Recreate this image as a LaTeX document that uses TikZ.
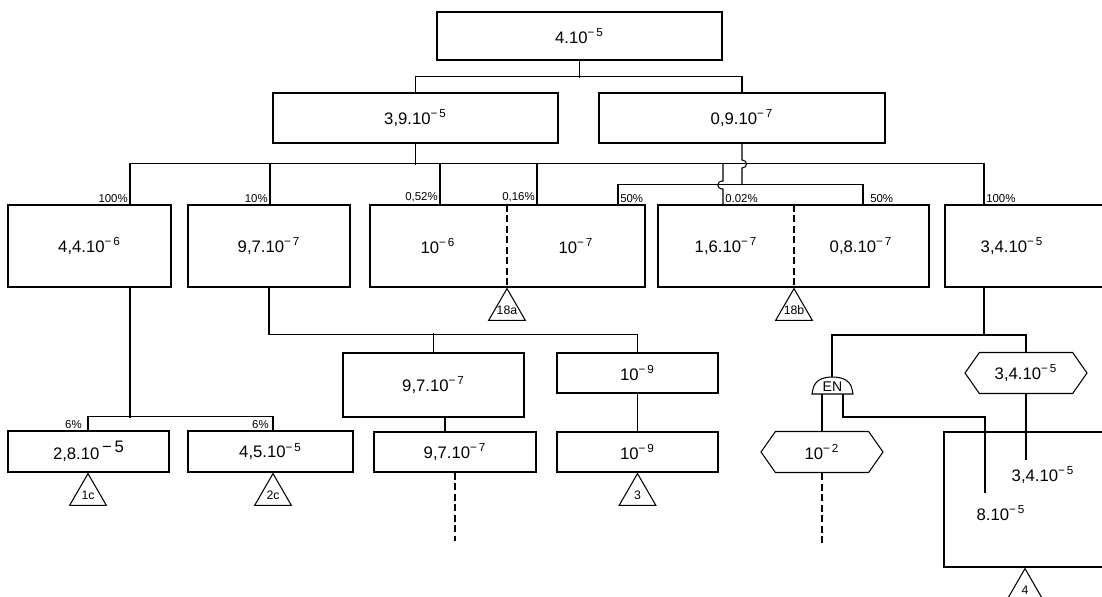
\documentclass[tikz,border=0pt]{standalone}
\usepackage{fontspec}
\setmainfont{Liberation Sans}
\usetikzlibrary{positioning,fit,shapes.geometric,shapes.symbols}
\newcommand{\ee}[1]{\textsuperscript{−\,#1}}

\begin{document}
\begin{tikzpicture}[
    x=0.02cm, y=-0.02cm, line width=0.6pt,
    font=\fontsize{9.5}{11}\selectfont,
    blk/.style={draw, inner sep=0pt},
    val/.style={inner sep=1pt},
    pct/.style={inner sep=1pt, font=\fontsize{6.5}{7}\selectfont},
    tri/.style={draw, regular polygon, regular polygon sides=3, minimum size=0.85cm, inner sep=0pt, anchor=corner 1},
    tritxt/.style={inner sep=0pt, font=\fontsize{7}{8}\selectfont},
    hex/.style={draw, signal, signal to=west and east, signal pointer angle=110, minimum width=2.44cm, minimum height=0.82cm, inner sep=0pt},
    gap/.style={dash pattern=on 4pt off 2pt}
]
\useasboundingbox (0,0) rectangle (1102,596);
\clip (0,0) rectangle (1102,596);

% top levels
\node[blk, fit={(437,12) (722,60)}, label=center:{4.10\ee{5}}] (top) {};
\node[blk, fit={(273,93) (558,143)}, label=center:{3,9.10\ee{5}}] (a1) {};
\node[blk, fit={(599,93) (885,143)}, label=center:{0,9.10\ee{7}}] (a2) {};
\draw (top.south) -- ++(0,17);
\draw (a1.north) -- ++(0,-16) -| (a2.north);

% second level
\node[blk, fit={(8,205) (171,287)}, label=center:{4,4.10\ee{6}}] (b1) {};
\node[blk, fit={(188,205) (350,287)}, label=center:{9,7.10\ee{7}}] (b2) {};
\node[blk, fit={(370,205) (645,287)}] (b3) {};
\node[blk, fit={(658,205) (929,287)}] (b4) {};
\node[blk, fit={(945,205) (1130,287)}] (b5) {};
\node[val] (b3l) at (438,246) {10\ee{6}};
\node[val] (b3r) at (576,246) {10\ee{7}};
\node[val] (b4l) at (726,246) {1,6.10\ee{7}};
\node[val] (b4r) at (861,246) {0,8.10\ee{7}};
\node[val] (b5t) at (1012,246) {3,4.10\ee{5}};
\draw[gap] (b3.north -| 507,0) -- (b3.south -| 507,0);
\draw[gap] (b4.north -| 794,0) -- (b4.south -| 794,0);
\node[tri, label={[tritxt]center:18a}] (t18a) at (b3.south -| 507,0) {};
\node[tri, label={[tritxt]center:18b}] (t18b) at (b4.south -| 794,0) {};

% bus
\draw (a1.south) -- ++(0,21);
\draw (b1.north -| 130,0) -- ++(0,-41) -| (b5.north -| 984,0);
\draw (b2.north -| 270,0) -- ++(0,-41);
\draw (b3.north -| 440,0) -- ++(0,-41);
\draw (b3.north -| 537,0) -- ++(0,-41);
\draw (b4.north -| 723,0) -- (723,189) .. controls (716,189) and (716,181) .. (723,181) -- (723,164);
\draw (a2.south) -- (742,160) .. controls (748,160) and (748,168) .. (742,168) -- (742,185);
\draw (b3.north -| 618,0) -- ++(0,-20) -| (b4.north -| 863,0);

\node[pct, anchor=south east] at (b1.north -| 130,0) {100\%};
\node[pct, anchor=south east] at (b2.north -| 270,0) {10\%};
\node[pct, anchor=south east] at (b3.north -| 440,0) {0,52\%};
\node[pct, anchor=south east] at (b3.north -| 537,0) {0,16\%};
\node[pct, anchor=south west] at (b3.north -| 618,0) {50\%};
\node[pct, anchor=south west] at (b4.north -| 723,0) {0.02\%};
\node[pct, anchor=south west] at (b4.north -| 868,0) {50\%};
\node[pct, anchor=south west] at (b5.north -| 984,0) {100\%};

% branch under 9,7
\node[blk, fit={(343,353) (524,417)}, label=center:{9,7.10\ee{7}}] (c1) {};
\node[blk, fit={(557,353) (718,393)}, label=center:{10\ee{9}}] (c2) {};
\draw (b2.south) -- ++(0,47) -| (c2.north);
\draw (c1.north) -- ++(0,-19);

% bottom level
\node[blk, fit={(8,431) (169,472)}, label=center:{2,8.10\,\raisebox{.4em}{−\,5}}] (d1) {};
\node[blk, fit={(188,431) (353,472)}, label=center:{4,5.10\ee{5}}] (d2) {};
\node[blk, fit={(374,432) (536,472)}, label=center:{9,7.10\ee{7}}] (d3) {};
\node[blk, fit={(557,432) (718,472)}, label=center:{10\ee{9}}] (d4) {};
\draw (b1.south -| 130,0) -- ++(0,130);
\draw (d1.north -| 88,0) -- ++(0,-14) -| (d2.north -| 273,0);
\node[pct, anchor=south east] at (d1.north -| 84,0) {6\%};
\node[pct, anchor=south east] at (d2.north -| 271,0) {6\%};
\draw (c1.south -| 445,0) -- (d3.north -| 445,0);
\draw (c2.south) -- (d4.north);
\node[tri, label={[tritxt]center:1c}] (t1c) at (d1.south -| 88,0) {};
\node[tri, label={[tritxt]center:2c}] (t2c) at (d2.south -| 273,0) {};
\node[tri, label={[tritxt]center:3}] (t3) at (d4.south) {};
\draw[gap] (d3.south -| 455,0) -- ++(0,68);

% right branch
\node[hex] (h1) at (1026,373) {3,4.10\ee{5}};
\node[hex] (h2) at (822,452) {10\ee{2}};
\draw (812,394) -- (813,389) .. controls (815,379) and (825,377) .. (832.5,377) .. controls (840,377) and (850,379) .. (852,389) -- (853,394) -- cycle;
\node[inner sep=0pt, font=\fontsize{8}{9}\selectfont] (en) at (832.5,387) {EN};
\coordinate (enT) at (832,377);
\coordinate (enL) at (822,394);
\coordinate (enR) at (843,394);
\coordinate (p8) at (985,493);
\draw (b5.south -| 984,0) -- ++(0,48);
\draw (enT) -- ++(0,-42) -| (h1.north);
\draw (enL) -- (h2.north);
\draw (enR) |- (p8 |- 0,417) -- (p8);
\draw[gap] (h2.south) -- ++(0,73);

\node[blk, fit={(944,432) (1130,567)}] (d5) {};
\node[val] (v34) at (1043,475) {3,4.10\ee{5}};
\node[val] (v8) at (1001,513) {8.10\ee{5}};
\draw (h1.south) -- ++(0,66);
\node[tri, label={[tritxt]center:4}] (t4) at (d5.south -| 1025,0) {};
\end{tikzpicture}
\end{document}
